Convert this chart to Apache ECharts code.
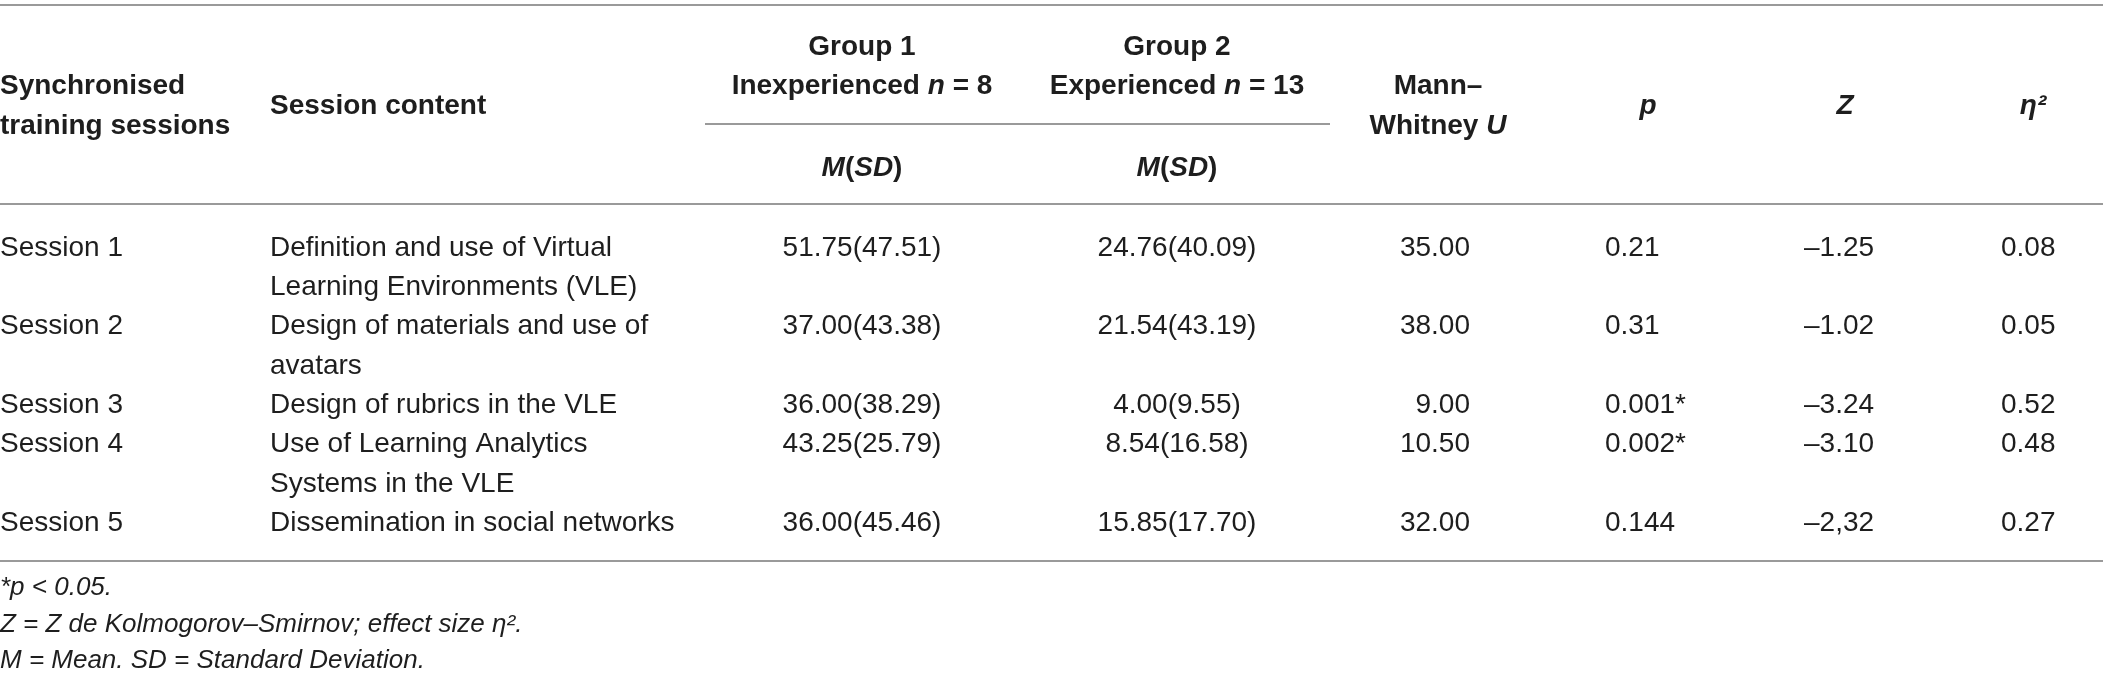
<!DOCTYPE html>
<html>
<head>
<meta charset="utf-8">
<script src="https://cdn.jsdelivr.net/npm/echarts@6/dist/echarts.min.js"></script>
<style>
html, body { margin: 0; padding: 0; background: #fff; }
#main { width: 2103px; height: 688px; }
</style>
</head>
<body>
<div id="main"></div>
<script>
// table data
var sessions = ['Session 1', 'Session 2', 'Session 3', 'Session 4', 'Session 5'];
var contents = [
    ['Definition and use of Virtual', 'Learning Environments (VLE)'],
    ['Design of materials and use of', 'avatars'],
    ['Design of rubrics in the VLE'],
    ['Use of Learning Analytics', 'Systems in the VLE'],
    ['Dissemination in social networks']
];
var g1Mean = [51.75, 37.00, 36.00, 43.25, 36.00];
var g1SD = [47.51, 43.38, 38.29, 25.79, 45.46];
var g2Mean = [24.76, 21.54, 4.00, 8.54, 15.85];
var g2SD = [40.09, 43.19, 9.55, 16.58, 17.70];
var mannU = [35.00, 38.00, 9.00, 10.50, 32.00];
var pVals = ['0.21', '0.31', '0.001*', '0.002*', '0.144'];
var zVals = ['\u20131.25', '\u20131.02', '\u20133.24', '\u20133.10', '\u20132,32'];
var eta2 = [0.08, 0.05, 0.52, 0.48, 0.27];
var notes = [
    '*{i|p} < 0.05.',
    'Z = Z de Kolmogorov\u2013Smirnov; effect size \u03b7\u00b2.',
    'M = Mean. SD = Standard Deviation.'
];

var myChart = echarts.init(document.getElementById('main'));
var fam = '"Liberation Sans", Arial, Helvetica, sans-serif';
var ink = '#1e1e1e';
var rule = '#9a9a9a';

// column anchors (pixels of the 2103 wide canvas)
var colSession = 0, colContent = 270, colG1 = 862, colG2 = 1177,
    colU = 1470, colP = 1605, colZ = 1804, colEta = 2001;
var rowTop = 248, lineGap = 39.3;
var lineStart = [0, 2, 4, 5, 7];

var rich = {
    b: { fontWeight: 'bold', fontSize: 28, fontFamily: fam, fill: ink },
    bi: { fontWeight: 'bold', fontStyle: 'italic', fontSize: 28, fontFamily: fam, fill: ink },
    i: { fontStyle: 'italic', fontSize: 26, fontFamily: fam, fill: ink }
};

var cells = [];
function cell(x, y, text, align, kind) {
    cells.push({ x: x, y: y, text: text, align: align, kind: kind || 'body' });
}

// header
cell(colSession, 86, 'Synchronised', 'left', 'head');
cell(colSession, 126, 'training sessions', 'left', 'head');
cell(colContent, 106, 'Session content', 'left', 'head');
cell(colG1, 47, 'Group 1', 'center', 'head');
cell(colG1, 86, 'Inexperienced {bi|n} = 8', 'center', 'head');
cell(colG1, 168, '{bi|M}{b|(}{bi|SD}{b|)}', 'center', 'head');
cell(colG2, 47, 'Group 2', 'center', 'head');
cell(colG2, 86, 'Experienced {bi|n} = 13', 'center', 'head');
cell(colG2, 168, '{bi|M}{b|(}{bi|SD}{b|)}', 'center', 'head');
cell(1438, 86, 'Mann\u2013', 'center', 'head');
cell(1438, 126, 'Whitney {bi|U}', 'center', 'head');
cell(1648, 106, '{bi|p}', 'center', 'head');
cell(1845, 106, '{bi|Z}', 'center', 'head');
cell(2033, 106, '{bi|\u03b7\u00b2}', 'center', 'head');

// body
sessions.forEach(function (s, i) {
    var y = rowTop + lineStart[i] * lineGap;
    cell(colSession, y, s, 'left');
    contents[i].forEach(function (t, k) {
        cell(colContent, y + k * lineGap, t, 'left');
    });
    cell(colG1, y, g1Mean[i].toFixed(2) + '(' + g1SD[i].toFixed(2) + ')', 'center');
    cell(colG2, y, g2Mean[i].toFixed(2) + '(' + g2SD[i].toFixed(2) + ')', 'center');
    cell(colU, y, mannU[i].toFixed(2), 'right');
    cell(colP, y, pVals[i], 'left');
    cell(colZ, y, zVals[i], 'left');
    cell(colEta, y, eta2[i].toFixed(2), 'left');
});

// notes
notes.forEach(function (t, k) {
    cell(0, 588 + k * 36.5, t, 'left', 'note');
});

function renderCell(params, api) {
    var c = cells[api.value(2)];
    var p = api.coord([api.value(0), api.value(1)]);
    var head = c.kind === 'head', note = c.kind === 'note';
    return {
        type: 'text',
        x: p[0],
        y: p[1],
        style: {
            text: c.text,
            fill: ink,
            fontFamily: fam,
            fontSize: note ? 26 : 28,
            fontWeight: head ? 'bold' : 'normal',
            fontStyle: note ? 'italic' : 'normal',
            align: c.align,
            verticalAlign: 'middle',
            rich: rich
        }
    };
}

var option = {
    animation: false,
    grid: { left: 0, right: 0, top: 0, bottom: 0 },
    xAxis: { type: 'value', min: 0, max: 2103, show: false },
    yAxis: { type: 'value', min: 0, max: 688, inverse: true, show: false },
    series: [{
        type: 'lines',
        coordinateSystem: 'cartesian2d',
        silent: true,
        lineStyle: { color: rule, width: 2, opacity: 1 },
        data: [
            { coords: [[0, 5], [2103, 5]] },
            { coords: [[705, 124], [1330, 124]] },
            { coords: [[0, 204], [2103, 204]] },
            { coords: [[0, 561], [2103, 561]] }
        ]
    }, {
        type: 'custom',
        silent: true,
        clip: false,
        renderItem: renderCell,
        data: cells.map(function (c, i) { return [c.x, c.y, i]; })
    }]
};

myChart.setOption(option);
</script>
</body>
</html>
